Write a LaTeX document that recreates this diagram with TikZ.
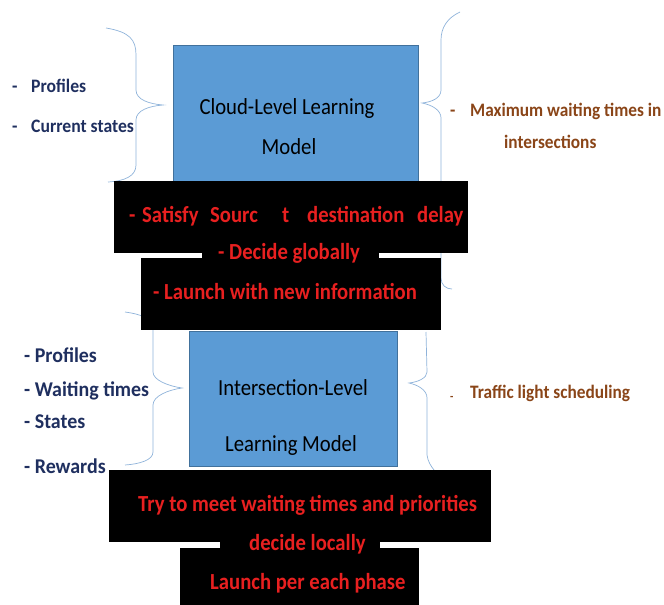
\documentclass[tikz,border=0pt]{standalone}
\usepackage{fontspec}
\newfontfamily\calr[FakeStretch=0.9]{Carlito}
\newfontfamily\calb[FakeStretch=0.9]{Carlito Bold}
\newfontfamily\calnt[FakeStretch=0.93]{Carlito Bold}
\newfontfamily\calnb[FakeStretch=0.95]{Carlito Bold}
\newfontfamily\calbr[FakeStretch=0.91]{Carlito Bold}
\definecolor{boxblue}{HTML}{5B9BD5}
\definecolor{boxedge}{HTML}{41719C}
\definecolor{navy}{HTML}{1F2F5F}
\definecolor{brown}{HTML}{8A4518}
\definecolor{redtxt}{HTML}{E82020}
\definecolor{brace}{HTML}{8FB3DA}
\tikzset{
  bluebox/.style={draw=boxedge, line width=0.6pt, fill=boxblue, inner sep=0, outer sep=0},
  blackbox/.style={fill=black, draw=none, inner sep=0, outer sep=0},
  bracel/.style={draw=brace, line width=0.7pt},
  navytxt/.style={text=navy, inner sep=0, anchor=base west, font=\calnt\fontsize{19}{21}\selectfont},
  navytxtb/.style={text=navy, inner sep=0, anchor=base west, font=\calnb\fontsize{21}{23}\selectfont},
  browntxt/.style={text=brown, inner sep=0, anchor=base west, font=\calbr\fontsize{19}{21}\selectfont},
  boxtxt/.style={text=black, inner sep=0, anchor=base, font=\calr\fontsize{23}{25}\selectfont},
  redt/.style={text=redtxt, inner sep=0, anchor=base west, font=\calb\fontsize{23}{25}\selectfont},
}
\begin{document}
\begin{tikzpicture}[x=1pt,y=-1pt]
\useasboundingbox (0,0) rectangle (664,605);
% braces
\draw[bracel] (106,28) .. controls (130,32) and (136,40) .. (136,55) -- (136,90)
  .. controls (136,100) and (150,104) .. (163,105)
  .. controls (150,106) and (136,110) .. (136,120) -- (136,165)
  .. controls (136,176) and (125,181) .. (108,182);
\draw[bracel] (460,12) .. controls (447,18) and (441,28) .. (441,40) -- (441,90)
  .. controls (441,98) and (432,102) .. (422,103)
  .. controls (432,105) and (441,110) .. (441,118) -- (441,278)
  .. controls (441,285) and (446,289) .. (452,289);
\draw[bracel] (125,312) .. controls (140,314) and (153,318) .. (153,330) -- (153,372)
  .. controls (153,380) and (168,386) .. (182,388)
  .. controls (168,390) and (153,396) .. (153,405) -- (153,452)
  .. controls (153,460) and (140,464) .. (125,465);
\draw[bracel] (426,332) -- (427,372)
  .. controls (427,378) and (418,382) .. (409,383)
  .. controls (418,385) and (427,390) .. (427,398) -- (427,455)
  .. controls (428,462) and (431,466) .. (434,470);
% blue boxes
\node[bluebox, minimum width=245pt, minimum height=138pt] (cloud) at (295.5,114) {};
\node[bluebox, minimum width=208pt, minimum height=135pt] (inter) at (293,398.5) {};
% black boxes
\node[blackbox, minimum width=354pt, minimum height=72pt] (b1) at (291,217) {};
\node[blackbox, minimum width=300pt, minimum height=72pt] (b2) at (291,294) {};
\node[blackbox, minimum width=177pt, minimum height=25pt] (g1) at (290.5,245.5) {};
\node[blackbox, minimum width=382pt, minimum height=72pt] (b3) at (300,506) {};
\node[blackbox, minimum width=239pt, minimum height=57pt] (b4) at (299.5,576.5) {};
\node[blackbox, minimum width=160pt, minimum height=20pt] (g2) at (300,538) {};
% left top texts
\node[navytxt] (d1) at (12,92) {-};
\node[navytxt] (t1) at (31,92) {Profiles};
\node[navytxt] (d2) at (12,132) {-};
\node[navytxt] (t2) at (31,132) {Current states};
% cloud box text
\node[boxtxt] (c1) at (287,114) {Cloud-Level Learning};
\node[boxtxt] (c2) at (289,154) {Model};
% right top
\node[browntxt] (d3) at (450,116) {-};
\node[browntxt] (r1) at (470,116) {Maximum waiting times in};
\node[browntxt] (r2) at (504,148) {intersections};
% red top
\node[redt] (s0) at (129,222) {-};
\node[redt] (s1) at (142,222) {Satisfy};
\node[redt] (s2) at (210,222) {Sourc};
\node[redt] (s3) at (282,222) {t};
\node[redt] (s4) at (307,222) {destination};
\node[redt] (s5) at (417,222) {delay};
\node[redt] (s6) at (218,259) {- Decide globally};
\node[redt] (s7) at (153,299) {- Launch with new information};
% left bottom
\node[navytxtb] (l1) at (24,362) {- Profiles};
\node[navytxtb] (l2) at (24,396) {- Waiting times};
\node[navytxtb] (l3) at (24,428) {- States};
\node[navytxtb] (l4) at (24,473) {- Rewards};
% inter box text
\node[boxtxt] (i1) at (293,395) {Intersection-Level};
\node[boxtxt] (i2) at (291,451) {Learning Model};
% right bottom
\node[browntxt, font=\calb\fontsize{12}{14}\selectfont] (d4) at (450,400) {-};
\node[browntxt] (r3) at (470,398) {Traffic light scheduling};
% red bottom
\node[redt] (u1) at (138,511) {Try to meet waiting times and priorities};
\node[redt] (u2) at (249,550) {decide locally};
\node[redt] (u3) at (210,589) {Launch per each phase};
\end{tikzpicture}
\end{document}
